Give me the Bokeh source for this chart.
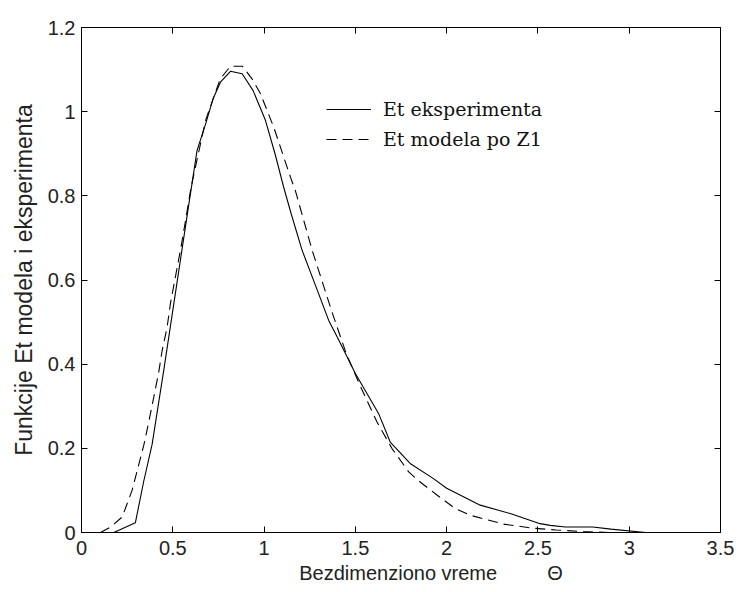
from bokeh.plotting import figure
from bokeh.models import Range1d, FixedTicker, LinearAxis, Legend, LegendItem
from bokeh.embed import file_html
from bokeh.resources import INLINE

# --- data ---
theta_exp = [0.177, 0.295, 0.34, 0.387, 0.45, 0.52, 0.58, 0.633, 0.68, 0.72, 0.761, 0.816,
             0.88, 0.94, 1.007, 1.06, 1.107, 1.15, 1.208, 1.28, 1.354, 1.40, 1.50, 1.627,
             1.691, 1.80, 1.928, 2.0, 2.184, 2.348, 2.512, 2.567, 2.65, 2.80, 2.90, 3.09]
et_exp = [0.0, 0.023, 0.12, 0.21, 0.384, 0.585, 0.757, 0.908, 0.971, 1.03, 1.07, 1.096,
          1.09, 1.05, 0.98, 0.90, 0.821, 0.755, 0.671, 0.589, 0.504, 0.465, 0.378, 0.283,
          0.215, 0.164, 0.128, 0.105, 0.065, 0.045, 0.021, 0.017, 0.013, 0.013, 0.008, 0.0]

theta_mod = [0.104, 0.159, 0.223, 0.277, 0.341, 0.368, 0.396, 0.423, 0.442, 0.469, 0.487,
             0.55, 0.60, 0.68, 0.76, 0.816, 0.881, 0.934, 0.98, 1.053, 1.144, 1.171, 1.263,
             1.372, 1.45, 1.53, 1.618, 1.70, 1.792, 1.855, 1.95, 2.047, 2.129, 2.311, 2.476,
             2.60, 2.75, 2.90]
et_mod = [0.0, 0.013, 0.037, 0.10, 0.207, 0.262, 0.322, 0.381, 0.433, 0.488, 0.544,
          0.69, 0.82, 0.98, 1.078, 1.108, 1.108, 1.078, 1.043, 0.963, 0.845, 0.813, 0.671,
          0.524, 0.425, 0.345, 0.263, 0.20, 0.144, 0.12, 0.088, 0.057, 0.041, 0.02, 0.01,
          0.006, 0.002, 0.0]

x_ticks = [0, 0.5, 1, 1.5, 2, 2.5, 3, 3.5]
x_tick_labels = ["0", "0.5", "1", "1.5", "2", "2.5", "3", "3.5"]
y_ticks = [0, 0.2, 0.4, 0.6, 0.8, 1.0, 1.2]
y_tick_labels = ["0", "0.2", "0.4", "0.6", "0.8", "1", "1.2"]

series_labels = ["Et eksperimenta", "Et modela po Z1"]
x_title = "Bezdimenziono vreme"
x_symbol = "\u0398"
y_title = "Funkcije Et modela i eksperimenta"

SANS = "Liberation Sans"
EN = "\u2002"

p = figure(width=740, height=592, output_backend="svg", toolbar_location=None,
           x_range=Range1d(0, 3.5), y_range=Range1d(0, 1.2),
           min_border_left=81, min_border_right=20, min_border_top=27, min_border_bottom=60)
p.background_fill_color = "white"
p.border_fill_color = "white"
p.outline_line_color = "black"
p.outline_line_width = 1
p.xgrid.visible = False
p.ygrid.visible = False

xa = p.xaxis[0]
ya = p.yaxis[0]
xa.ticker = FixedTicker(ticks=x_ticks)
ya.ticker = FixedTicker(ticks=y_ticks)
xa.major_label_overrides = {t: l for t, l in zip(x_ticks, x_tick_labels)}
ya.major_label_overrides = {t: l for t, l in zip(y_ticks, y_tick_labels)}
# leading padding keeps the words where the reference has them; Θ sits to the right
xa.axis_label = EN * 6 + x_title + EN * 5 + x_symbol
ya.axis_label = y_title
for ax in (xa, ya):
    ax.major_tick_in = 6
    ax.major_tick_out = 0
    ax.minor_tick_in = 0
    ax.minor_tick_out = 0
    ax.axis_line_color = "black"
    ax.major_tick_line_color = "black"
    ax.major_label_text_font = SANS
    ax.major_label_text_font_size = "20px"
    ax.major_label_text_color = "#222222"
    ax.axis_label_text_font = SANS
    ax.axis_label_text_font_style = "normal"
    ax.axis_label_text_color = "#222222"
xa.major_label_standoff = 8
ya.major_label_standoff = 6
xa.axis_label_text_font_size = "20px"
ya.axis_label_text_font_size = "23px"
xa.axis_label_standoff = 4
ya.axis_label_standoff = 8

for loc, tk in (("above", x_ticks), ("right", y_ticks)):
    ax = LinearAxis(ticker=FixedTicker(ticks=tk), major_tick_in=6, major_tick_out=0,
                    minor_tick_in=0, minor_tick_out=0, major_label_text_font_size="0px",
                    major_label_standoff=0, axis_line_color="black",
                    major_tick_line_color="black")
    p.add_layout(ax, loc)

r_exp = p.line(theta_exp, et_exp, line_color="black", line_width=1.1)
r_mod = p.line(theta_mod, et_mod, line_color="black", line_width=1.1, line_dash="10 6")

legend = Legend(items=[LegendItem(label=series_labels[0], renderers=[r_exp]),
                       LegendItem(label=series_labels[1], renderers=[r_mod])],
                location=(245, 382), padding=0, margin=0, spacing=8,
                glyph_width=45, glyph_height=20, label_height=20, label_standoff=12,
                label_text_font="DejaVu Serif", label_text_font_size="19px",
                label_text_color="#111111",
                border_line_color=None, background_fill_alpha=0)
p.add_layout(legend, "center")

open("out.html", "w").write(file_html(p, INLINE))
